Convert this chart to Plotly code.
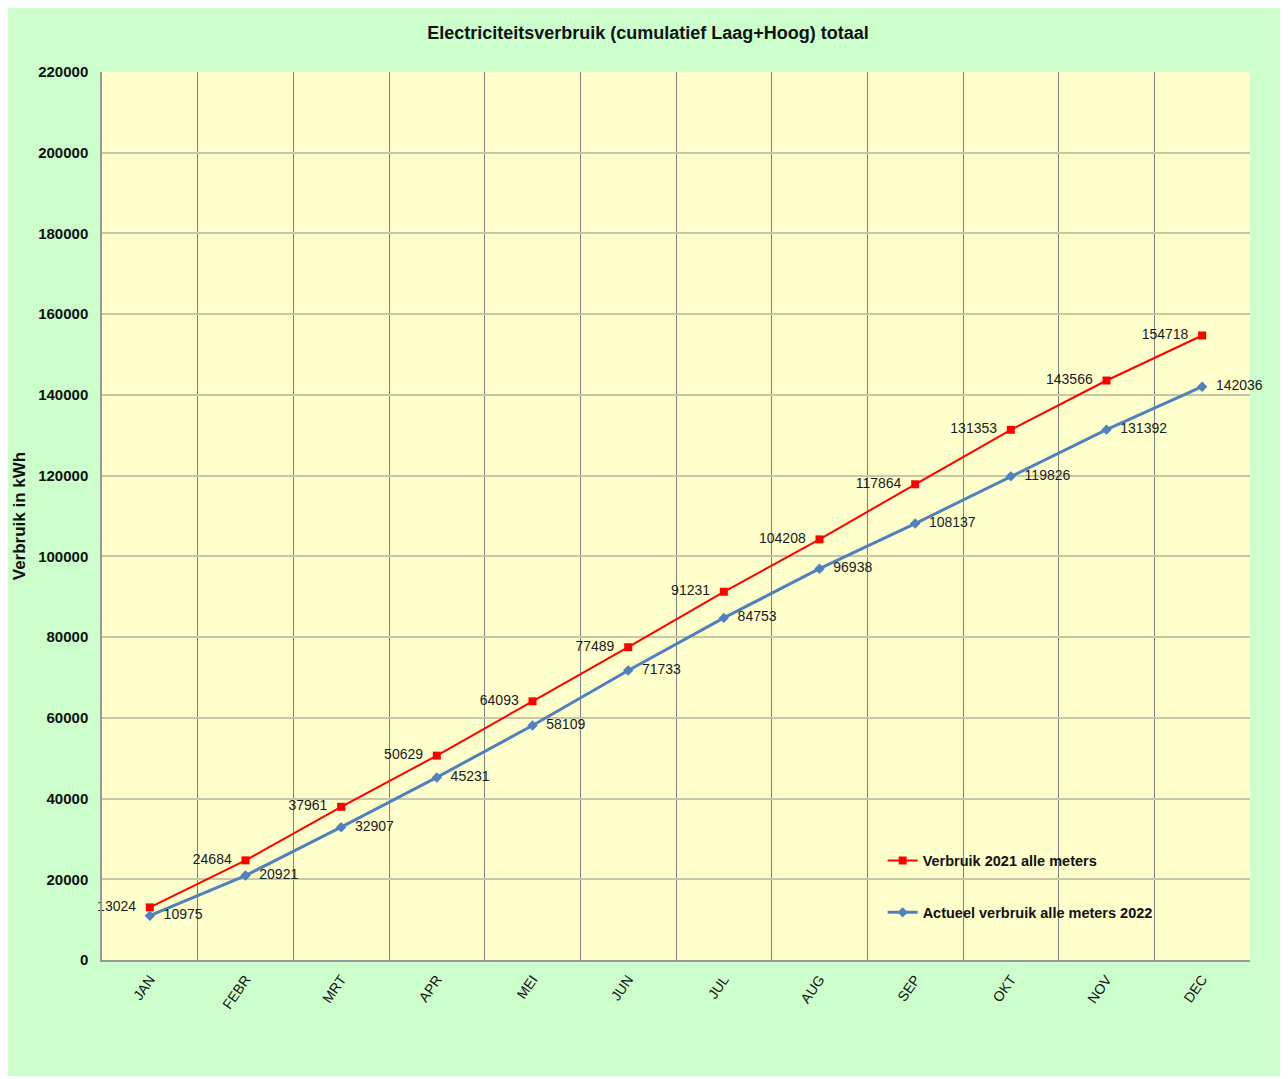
import plotly.graph_objects as go

months = ["JAN", "FEBR", "MRT", "APR", "MEI", "JUN", "JUL", "AUG", "SEP", "OKT", "NOV", "DEC"]
verbruik_2021 = [13024, 24684, 37961, 50629, 64093, 77489, 91231, 104208, 117864, 131353, 143566, 154718]
verbruik_2022 = [10975, 20921, 32907, 45231, 58109, 71733, 84753, 96938, 108137, 119826, 131392, 142036]
y_ticks = list(range(0, 220001, 20000))

xpos = list(range(len(months)))
boundaries = [i + 0.5 for i in range(len(months) - 1)]

FONT = "Liberation Sans, Arial, sans-serif"
W, H = 1280, 1068
ML, MR, MT, MB = 94, 38, 64, 116
PAD = "\u00a0\u00a0"

fig = go.Figure()
fig.add_trace(go.Scatter(
    x=xpos, y=verbruik_2021, name="<b>Verbruik 2021 alle meters</b>",
    mode="lines+markers+text",
    line=dict(color="#ff0000", width=2),
    marker=dict(symbol="square", size=8, color="#ff0000"),
    text=[f"{v}{PAD}" for v in verbruik_2021],
    textposition="middle left",
    textfont=dict(family=FONT, size=14, color="#1a1a1a"),
    cliponaxis=False,
    legendgroup="a",
))
fig.add_trace(go.Scatter(
    x=xpos, y=verbruik_2022, name="<b>Actueel verbruik alle meters 2022</b>",
    mode="lines+markers+text",
    line=dict(color="#4f81bd", width=3),
    marker=dict(symbol="diamond", size=8, color="#4f81bd"),
    text=[f"{PAD}{v}" for v in verbruik_2022],
    textposition="middle right",
    textfont=dict(family=FONT, size=14, color="#1a1a1a"),
    cliponaxis=False,
    legendgroup="b",
))

fig.update_layout(
    width=W, height=H,
    margin=dict(l=ML, r=MR, t=MT, b=MB),
    paper_bgcolor="#ccffcc",
    plot_bgcolor="#ffffcc",
    font=dict(family=FONT, color="#111111"),
    title=dict(text="<b>Electriciteitsverbruik (cumulatief Laag+Hoog) totaal</b>",
               x=0.5, xanchor="center", y=1 - 25 / H, yanchor="middle",
               font=dict(size=18, family=FONT, color="#111111")),
    showlegend=True,
    legend=dict(x=0.68, xanchor="left", y=0.13, yanchor="top",
                bgcolor="rgba(0,0,0,0)", tracegroupgap=30, itemwidth=30,
                font=dict(family=FONT, size=14.5, color="#111111")),
)
fig.update_xaxes(
    range=[-0.5, len(months) - 0.5], automargin=False,
    tickmode="array", tickvals=xpos, ticktext=months,
    tickangle=-55, tickfont=dict(size=14, family=FONT, color="#111111"),
    showgrid=False, zeroline=False,
    showline=True, linecolor="#999999", linewidth=1.5,
    ticks="", ticklabelstandoff=4,
    minor=dict(tickmode="array", tickvals=boundaries, showgrid=True,
               gridcolor="#808080", gridwidth=1, ticks=""),
)
fig.update_yaxes(
    range=[0, 220000], automargin=False, tickmode="array", tickvals=y_ticks,
    ticktext=[f"<b>{v}</b>" for v in y_ticks],
    tickfont=dict(size=15, family=FONT, color="#111111"),
    showgrid=True, gridcolor="#c8c8a8", gridwidth=2,
    zeroline=False, showline=True, linecolor="#999999", linewidth=1.5,
    ticks="", ticklabelstandoff=9,
    title=dict(text="<b>Verbruik in kWh</b>", font=dict(size=17, family=FONT, color="#111111"),
               standoff=8),
)

fig.write_html("out.html")
